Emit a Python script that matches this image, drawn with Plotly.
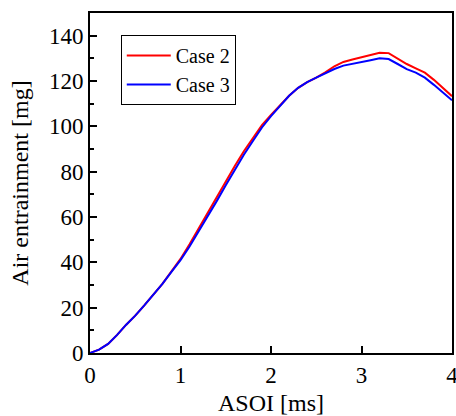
import plotly.graph_objects as go

asoi = [0.0, 0.1, 0.2, 0.3, 0.4, 0.5, 0.6, 0.7, 0.8, 0.9,
        1.0, 1.1, 1.2, 1.3, 1.4, 1.5, 1.6, 1.7, 1.8, 1.9,
        2.0, 2.1, 2.2, 2.3, 2.4, 2.5, 2.6, 2.7, 2.8, 2.9,
        3.0, 3.1, 3.2, 3.3, 3.4, 3.5, 3.6, 3.7, 3.8, 3.9, 4.0]

case2 = [0.0, 1.5, 4.0, 8.0, 12.5, 16.5, 21.0, 25.5, 30.5, 36.0,
         41.5, 48.0, 55.0, 62.0, 68.5, 75.5, 82.5, 89.0, 95.0, 100.5,
         105.0, 109.5, 113.5, 117.0, 119.5, 121.5, 123.8, 126.5, 128.4, 129.5,
         130.5, 131.5, 132.5, 132.3, 130.0, 127.5, 125.6, 123.7, 120.5, 116.8, 113.3]

case3 = [0.0, 1.5, 4.0, 8.0, 12.5, 16.5, 21.0, 25.5, 30.5, 35.8,
         41.0, 47.0, 53.5, 60.5, 67.0, 74.0, 81.0, 87.5, 93.5, 99.5,
         104.5, 109.0, 113.5, 117.0, 119.5, 121.5, 123.5, 125.3, 126.8, 127.5,
         128.2, 129.2, 130.0, 129.7, 127.5, 125.2, 123.7, 121.5, 118.3, 114.8, 111.5]

x_ticks = [0, 1, 2, 3, 4]
y_ticks = [0, 20, 40, 60, 80, 100, 120, 140]

FONT = "Times New Roman, Liberation Serif, serif"

fig = go.Figure()
fig.add_trace(go.Scatter(x=asoi, y=case2, mode="lines", name="Case 2",
                         line=dict(color="#ff0000", width=2)))
fig.add_trace(go.Scatter(x=asoi, y=case3, mode="lines", name="Case 3",
                         line=dict(color="#0000ff", width=2)))

fig.update_layout(
    width=456, height=416,
    margin=dict(l=90, r=4, t=13, b=63, autoexpand=False),
    paper_bgcolor="white", plot_bgcolor="white",
    font=dict(family=FONT, color="black", size=23),
    showlegend=True,
    legend=dict(x=0.085, y=0.935, xanchor="left", yanchor="top",
                bgcolor="white", bordercolor="black", borderwidth=1,
                font=dict(family=FONT, size=20, color="black"),
                itemwidth=44, tracegroupgap=0),
)

fig.update_xaxes(
    range=[0, 4], tickvals=x_ticks, ticktext=[str(v) for v in x_ticks],
    showline=True, linecolor="black", linewidth=2, mirror=True,
    ticks="inside", ticklen=7, tickwidth=2, tickcolor="black",
    showgrid=False, zeroline=False, ticklabeloverflow="allow", automargin=False,
    tickfont=dict(family=FONT, size=23),
    title=dict(text="ASOI [ms]", font=dict(family=FONT, size=24), standoff=8),
)
fig.update_yaxes(
    range=[0, 150], tickvals=y_ticks, ticktext=[str(v) for v in y_ticks],
    showline=True, linecolor="black", linewidth=2, mirror=True,
    ticks="inside", ticklen=7, tickwidth=2, tickcolor="black",
    minor=dict(ticks="inside", ticklen=4, tickwidth=2, tickcolor="black",
               dtick=10, tick0=0, showgrid=False),
    showgrid=False, zeroline=False, automargin=False,
    tickfont=dict(family=FONT, size=23),
    title=dict(text="Air entrainment [mg]", font=dict(family=FONT, size=24), standoff=14),
)

fig.write_html("out.html")
